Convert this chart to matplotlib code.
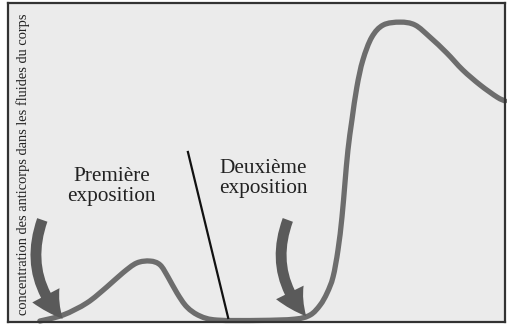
"""Antibody concentration after first and second exposure."""

import matplotlib
matplotlib.use("Agg")
import matplotlib.pyplot as plt
from matplotlib.patches import FancyArrowPatch, PathPatch
from matplotlib.path import Path

plt.rcParams["font.family"] = ["Liberation Serif", "DejaVu Serif"]

# curve (time, concentration), both in 0-100 units
time = [6.4, 11.1, 15.9, 19.9, 23.1, 25.9, 28.6, 30.6, 32.2, 34.0, 36.0,
        38.6, 42.1, 50.7, 57.7, 60.8, 62.8, 64.2, 65.4, 66.4, 67.2, 67.8,
        68.4, 69.2, 70.2, 71.4, 73.2, 75.5, 78.9, 81.9, 84.9, 88.3, 91.5,
        95.0, 98.4, 100.0]
conc = [0.3, 2.2, 6.0, 11.0, 15.4, 18.5, 19.1, 17.9, 14.1, 9.1, 4.7,
        1.9, 0.6, 0.5, 0.9, 2.2, 5.3, 9.1, 14.1, 22.6, 32.9, 43.6,
        53.9, 63.3, 73.7, 82.1, 89.3, 93.1, 94.0, 93.1, 89.3, 84.3, 79.0,
        74.3, 70.5, 69.3]

# second-exposure marker line
mark_x = [36.2, 44.3]
mark_y = [53.3, 1.3]

labels = ["Première\nexposition", "Deuxième\nexposition"]
label_pos = [(20.8, 42.5), (51.3, 45.0)]
# arrows: (start, tip)
arrows = [((6.9, 32.0), (11.0, 1.0)), ((56.3, 32.0), (60.0, 1.8))]
ylabel = "concentration des anticorps dans les fluides du corps"


def smooth_path(xs, ys):
    # Catmull-Rom through the read points, drawn as cubic Bezier segments
    pts = list(zip(xs, ys))
    verts, codes = [pts[0]], [Path.MOVETO]
    n = len(pts)
    for i in range(n - 1):
        p0 = pts[max(i - 1, 0)]; p1 = pts[i]
        p2 = pts[i + 1]; p3 = pts[min(i + 2, n - 1)]
        c1 = (p1[0] + (p2[0] - p0[0]) / 6, p1[1] + (p2[1] - p0[1]) / 6)
        c2 = (p2[0] - (p3[0] - p1[0]) / 6, p2[1] - (p3[1] - p1[1]) / 6)
        verts += [c1, c2, p2]
        codes += [Path.CURVE4] * 3
    return Path(verts, codes)


fig = plt.figure(figsize=(5.07, 3.29), dpi=100, facecolor="white")
ax = fig.add_axes([8 / 507, 7 / 329, 497 / 507, 319 / 329])
ax.set_facecolor("#ebebeb")
ax.set_xlim(0, 100)
ax.set_ylim(0, 100)
ax.set_xticks([]); ax.set_yticks([])
for sp in ax.spines.values():
    sp.set_color("#333333"); sp.set_linewidth(1.6)

ax.add_patch(PathPatch(smooth_path(time, conc), fill=False,
                       edgecolor="#6d6d6d", lw=3.8, capstyle="round",
                       joinstyle="round", clip_on=False))
ax.plot(mark_x, mark_y, color="#111111", lw=1.6)

for txt, (x, y) in zip(labels, label_pos):
    ax.text(x, y, txt, ha="center", va="center", fontsize=15.3,
            color="#222222", linespacing=1.1)

for (p0, p1) in arrows:
    ax.add_patch(FancyArrowPatch(
        p0, p1, connectionstyle="arc3,rad=0.3", shrinkA=0, shrinkB=0,
        arrowstyle="simple,head_width=1.7,head_length=1.6,tail_width=0.6",
        mutation_scale=13, color="#5a5a5a", lw=0))

ax.text(3.1, 49.5, ylabel, rotation=90, ha="center", va="center",
        fontsize=10.4, color="#222222")

fig.savefig("out.png", dpi=100, facecolor="white")
